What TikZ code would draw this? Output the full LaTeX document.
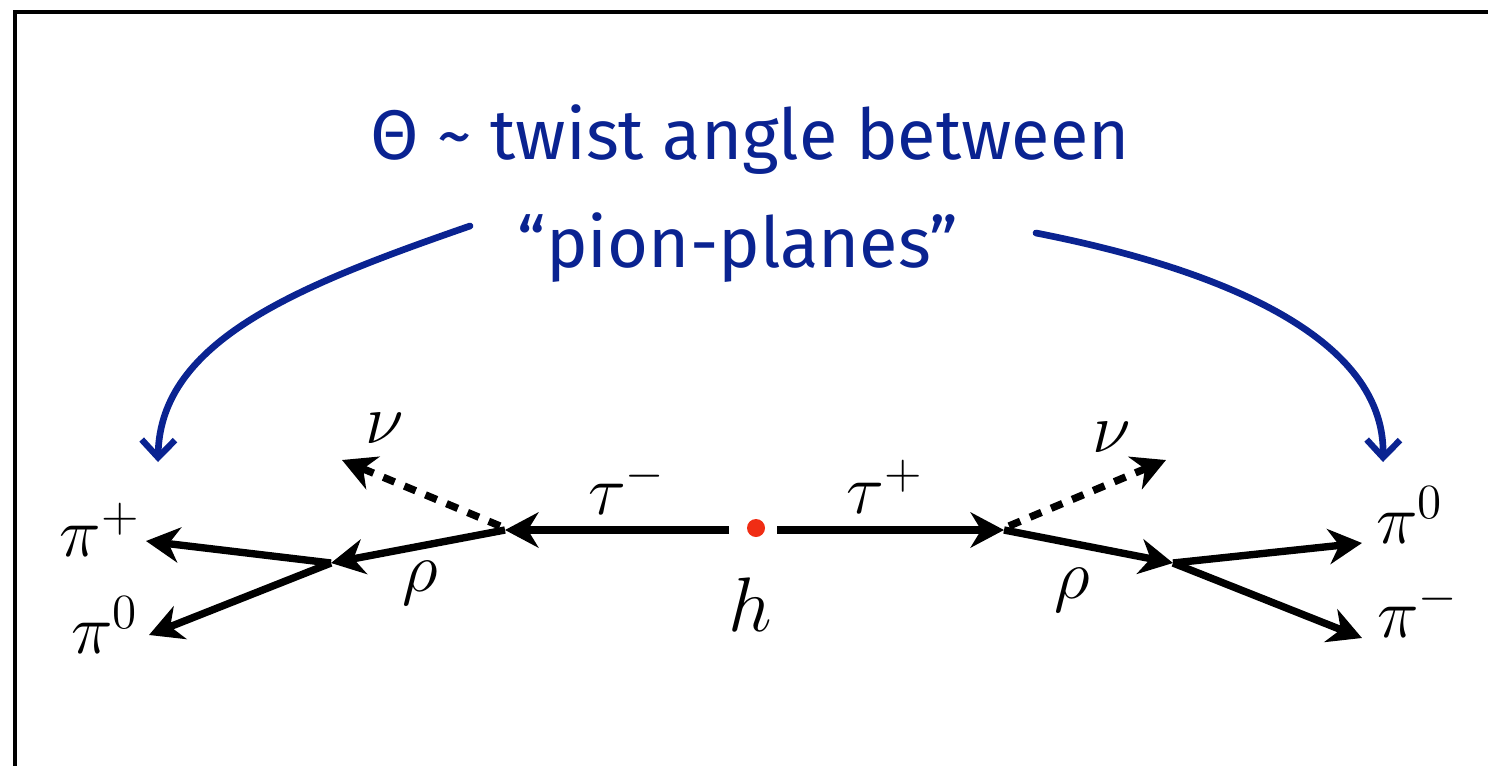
\RequirePackage{fix-cm}
\documentclass[tikz,border=0pt]{standalone}
\usepackage{fontspec}
\usepackage{amsmath}
\usetikzlibrary{arrows.meta}
\newfontfamily\handfont{Fira Sans}
\definecolor{penblue}{RGB}{10,35,145}
\definecolor{dotred}{RGB}{240,45,20}

\begin{document}
\begin{tikzpicture}[
    x=0.02cm, y=-0.02cm,
    prt/.style={line width=4.2pt, -{Stealth[length=19pt, width=20pt, inset=6pt]}},
    nu/.style={prt, dash pattern=on 7pt off 6pt},
    lbl/.style={font=\fontsize{20}{24}\selectfont, inner sep=0pt, scale=2},
    note/.style={font=\handfont\fontsize{40}{48}\selectfont, text=penblue, inner sep=0pt},
    pen/.style={penblue, line width=3.8pt, line cap=round, -{Straight Barb[length=10pt, width=19pt, line width=3.6pt]}}
]
\useasboundingbox (0,0) rectangle (1488,765);

% frame
\begin{scope}
\clip (0,0) rectangle (1488,765);
\draw[line width=2.8pt] (15,12) rectangle (1540,820);
\end{scope}

% vertices
\coordinate (hl) at (729,530);
\coordinate (hr) at (777,530);
\coordinate (tl) at (505,530);
\coordinate (tr) at (1004,530);
\coordinate (rl) at (331,563);
\coordinate (rr) at (1173,563);
\coordinate (nl) at (342,460);
\coordinate (nr) at (1166,460);
\coordinate (pl1) at (146,541);
\coordinate (pl2) at (149,635);
\coordinate (pr1) at (1362,543);
\coordinate (pr2) at (1362,638);

% higgs
\fill[dotred] (756,528) circle (9) node[coordinate] (h) {};
\node[lbl, scale=1.1] (hlab) at (750,605) {$h$};

% tau lines
\draw[prt] (hl) -- (tl);
\draw[prt] (hr) -- (tr);
\node[lbl] (taum) at (627,487) {$\tau^-$};
\node[lbl] (taup) at (885,487) {$\tau^+$};

% rho and neutrinos
\draw[prt] (tl) -- (rl);
\draw[prt] (tr) -- (rr);
\draw[nu] ([shift={(-5,-4)}]tl) -- (nl);
\draw[nu] ([shift={(5,-4)}]tr) -- (nr);
\node[lbl] (rhol) at (420,583) {$\rho$};
\node[lbl] (rhor) at (1072,590) {$\rho$};
\node[lbl] (nul) at (385,428) {$\nu$};
\node[lbl] (nur) at (1112,437) {$\nu$};

% pions
\draw[prt] (rl) -- (pl1);
\draw[prt] (rl) -- (pl2);
\draw[prt] (rr) -- (pr1);
\draw[prt] (rr) -- (pr2);
\node[lbl] (pip) at (100,530) {$\pi^+$};
\node[lbl] (pi0l) at (105,625) {$\pi^0$};
\node[lbl] (pi0r) at (1410,515) {$\pi^0$};
\node[lbl] (pim) at (1418,610) {$\pi^-$};

% twist angle note
\node[note] (note1) at (750,140) {Θ \textasciitilde{} twist angle between};
\node[note] (note2) at (738,248) {“pion-planes”};
\coordinate (al) at (470,226);
\coordinate (ar) at (1036,233);
\draw[pen] (al) .. controls (300,285) and (160,340) .. (158,462);
\draw[pen] (ar) .. controls (1200,265) and (1385,330) .. (1383,462);

\end{tikzpicture}
\end{document}
